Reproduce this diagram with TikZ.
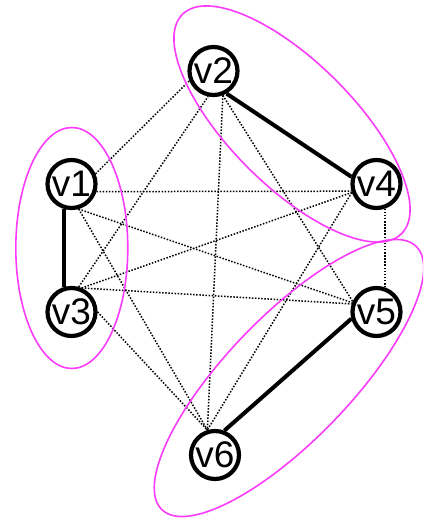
\documentclass[tikz,border=0pt]{standalone}
\usepackage{fontspec}
\setmainfont{Liberation Sans}
\definecolor{grp}{RGB}{250,60,250}
\begin{document}
\begin{tikzpicture}[x=1pt,y=1pt,
  vtx/.style={circle,draw=black,line width=4.2pt,fill=white,minimum size=48pt,inner sep=0pt,
    font=\fontsize{37}{37}\selectfont},
  weak/.style={line width=1.5pt,dash pattern=on 1.5pt off 1.6pt},
  strong/.style={line width=4pt},
  group/.style={draw=grp,line width=1.6pt}]
\useasboundingbox (0,0) rectangle (423,-519);
\clip (0,0) rectangle (423,-519);
\node[vtx] (v1) at (71.5,-184) {v1};
\node[vtx] (v2) at (213.5,-71) {v2};
\node[vtx] (v3) at (71.5,-312) {v3};
\node[vtx] (v4) at (376.5,-184) {v4};
\node[vtx] (v5) at (376.5,-312) {v5};
\node[vtx] (v6) at (215,-455) {v6};
% edges
\draw[weak] (v1.23) -- (v2.202);
\draw[weak] (v1.-17) -- (v4.196);
\draw[weak] (v1.-74) -- (v5.159);
\draw[weak] (v1.-74) -- (v6.107);
\draw[weak] (v3.74) -- (v2.258);
\draw[weak] (v3.67) -- (v4.199);
\draw[weak] (v3.67) -- (v5.162);
\draw[weak] (v3.0) -- (v6.107);
\draw[weak] (v2.291) -- (v5.156);
\draw[weak] (v2.291) -- (v6.107);
\draw[weak] (v4.289) -- (v5.71);
\draw[weak] (v4.199) -- (v6.107);
\draw[strong] (v1.254) -- (v3.106);
\draw[strong] (v2.300) -- (v4.164);
\draw[strong] (v5.195) -- (v6.69);
% groups
\draw[group] (71.8,-248) ellipse [x radius=56, y radius=120.5];
\draw[group,rotate around={-45:(292,-124)}] (292,-124) ellipse [x radius=155, y radius=62];
\draw[group,rotate around={46:(289,-378)}] (289,-378) ellipse [x radius=183, y radius=62];
\end{tikzpicture}
\end{document}
